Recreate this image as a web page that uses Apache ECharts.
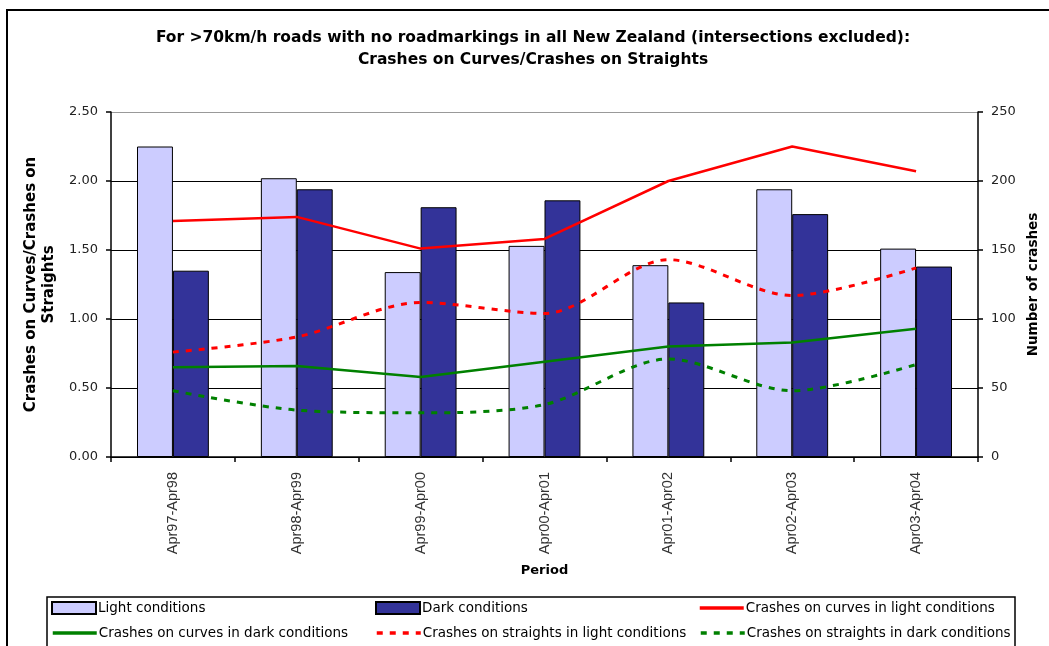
<!DOCTYPE html>
<html>
<head>
<meta charset="utf-8">
<script src="https://cdn.jsdelivr.net/npm/echarts@6/dist/echarts.min.js"></script>
<style>
html,body{margin:0;padding:0;background:#fff;}
#chart{width:1049px;height:646px;}
</style>
</head>
<body>
<div id="chart"></div>
<script>
var categories = ['Apr97-Apr98','Apr98-Apr99','Apr99-Apr00','Apr00-Apr01','Apr01-Apr02','Apr02-Apr03','Apr03-Apr04'];
var lightRatio = [2.25, 2.02, 1.34, 1.53, 1.39, 1.94, 1.51];
var darkRatio = [1.35, 1.94, 1.81, 1.86, 1.12, 1.76, 1.38];
var curvesLight = [171, 174, 151, 158, 200, 225, 207];
var curvesDark = [65, 66, 58, 69, 80, 83, 93];
var straightsLight = [76, 87, 112, 104, 143, 117, 137];
var straightsDark = [48, 34, 32, 38, 71, 48, 67];
var leftTicks = [0, 0.5, 1.0, 1.5, 2.0, 2.5];
var rightTicks = [0, 50, 100, 150, 200, 250];

var FONT = 'DejaVu Sans';
var chart = echarts.init(document.getElementById('chart'));

function legendItem(name, left, top, isLine) {
  var l = {
    data: [name], left: left, top: top, padding: 0,
    itemWidth: 44, itemHeight: 12, selectedMode: false,
    textStyle: { fontFamily: FONT, fontSize: 13.5, color: '#000', padding: [0, 0, 0, -3] }
  };
  if (isLine) {
    l.itemStyle = { opacity: 0, borderWidth: 0 };
    l.lineStyle = { width: 3.5 };
  } else {
    l.icon = 'rect';
  }
  return l;
}

var option = {
  animation: false,
  backgroundColor: '#fff',
  title: {
    text: 'For >70km/h roads with no roadmarkings in all New Zealand (intersections excluded):\nCrashes on Curves/Crashes on Straights',
    left: 533, top: 27, textAlign: 'center', padding: 0,
    textStyle: { fontFamily: FONT, fontSize: 15.5, fontWeight: 'bold', color: '#000', lineHeight: 22, align: 'center' }
  },
  graphic: [
    { type: 'polyline', shape: { points: [[7, 646], [7, 10], [1049, 10]] }, style: { stroke: '#000', lineWidth: 2, fill: null } },
    { type: 'rect', shape: { x: 47, y: 597, width: 968, height: 60 }, style: { stroke: '#000', lineWidth: 1.5, fill: null }, z: -1 }
  ],
  legend: [
    legendItem('Light conditions', 51, 601, false),
    legendItem('Dark conditions', 375, 601, false),
    legendItem('Crashes on curves in light conditions', 698, 601, true),
    legendItem('Crashes on curves in dark conditions', 51, 626, true),
    legendItem('Crashes on straights in light conditions', 375, 626, true),
    legendItem('Crashes on straights in dark conditions', 699, 626, true)
  ],
  grid: { left: 111, right: 71, top: 112, bottom: 189, containLabel: false },
  xAxis: {
    type: 'category', data: categories, boundaryGap: true,
    name: 'Period', nameLocation: 'middle', nameGap: 107,
    nameTextStyle: { fontFamily: FONT, fontSize: 13, fontWeight: 'bold', color: '#000' },
    axisLine: { lineStyle: { color: '#000', width: 1.5 } },
    axisTick: { show: true, length: 5, lineStyle: { color: '#000', width: 1.5 } },
    axisLabel: { rotate: 90, margin: 15, fontFamily: 'Liberation Sans', fontSize: 14.5, color: '#333' }
  },
  yAxis: [
    {
      type: 'value', min: 0, max: 2.5, interval: 0.5, position: 'left',
      name: 'Crashes on Curves/Crashes on\nStraights', nameLocation: 'middle', nameGap: 49,
      nameTextStyle: { fontFamily: FONT, fontSize: 15, fontWeight: 'bold', color: '#000', lineHeight: 18, align: 'center' },
      axisLine: { show: true, lineStyle: { color: '#000', width: 1.5 } },
      axisTick: { show: true, length: 5, lineStyle: { color: '#000', width: 1.5 } },
      axisLabel: { margin: 13, fontFamily: FONT, fontSize: 13, color: '#222', formatter: function (v) { return v.toFixed(2); } },
      splitLine: { show: true, lineStyle: { color: ['#000', '#000', '#000', '#000', '#000', '#999'], width: 1.2 } }
    },
    {
      type: 'value', min: 0, max: 250, interval: 50, position: 'right',
      name: 'Number of crashes', nameLocation: 'middle', nameGap: 46,
      nameTextStyle: { fontFamily: FONT, fontSize: 13.5, fontWeight: 'bold', color: '#000' },
      axisLine: { show: true, lineStyle: { color: '#000', width: 1.5 } },
      axisTick: { show: true, length: 5, lineStyle: { color: '#000', width: 1.5 } },
      axisLabel: { margin: 13, fontFamily: FONT, fontSize: 13, color: '#222' },
      splitLine: { show: false }
    }
  ],
  series: [
    { name: 'Light conditions', type: 'bar', yAxisIndex: 0, data: lightRatio, barGap: '0%', barCategoryGap: '42%',
      itemStyle: { color: '#CCCCFF', borderColor: '#000', borderWidth: 1 } },
    { name: 'Dark conditions', type: 'bar', yAxisIndex: 0, data: darkRatio, barGap: '0%', barCategoryGap: '42%',
      itemStyle: { color: '#333399', borderColor: '#000', borderWidth: 1 } },
    { name: 'Crashes on curves in light conditions', type: 'line', yAxisIndex: 1, data: curvesLight, symbol: 'none', z: 5,
      lineStyle: { color: '#FF0000', width: 2.5 }, itemStyle: { color: '#FF0000' } },
    { name: 'Crashes on curves in dark conditions', type: 'line', yAxisIndex: 1, data: curvesDark, symbol: 'none', z: 5,
      lineStyle: { color: '#008000', width: 2.5 }, itemStyle: { color: '#008000' } },
    { name: 'Crashes on straights in light conditions', type: 'line', yAxisIndex: 1, data: straightsLight, symbol: 'none', z: 5, smooth: 0.3,
      lineStyle: { color: '#FF0000', width: 3, type: [6, 7] }, itemStyle: { color: '#FF0000' } },
    { name: 'Crashes on straights in dark conditions', type: 'line', yAxisIndex: 1, data: straightsDark, symbol: 'none', z: 5, smooth: 0.3,
      lineStyle: { color: '#008000', width: 3, type: [6, 7] }, itemStyle: { color: '#008000' } }
  ]
};
chart.setOption(option);
</script>
</body>
</html>
